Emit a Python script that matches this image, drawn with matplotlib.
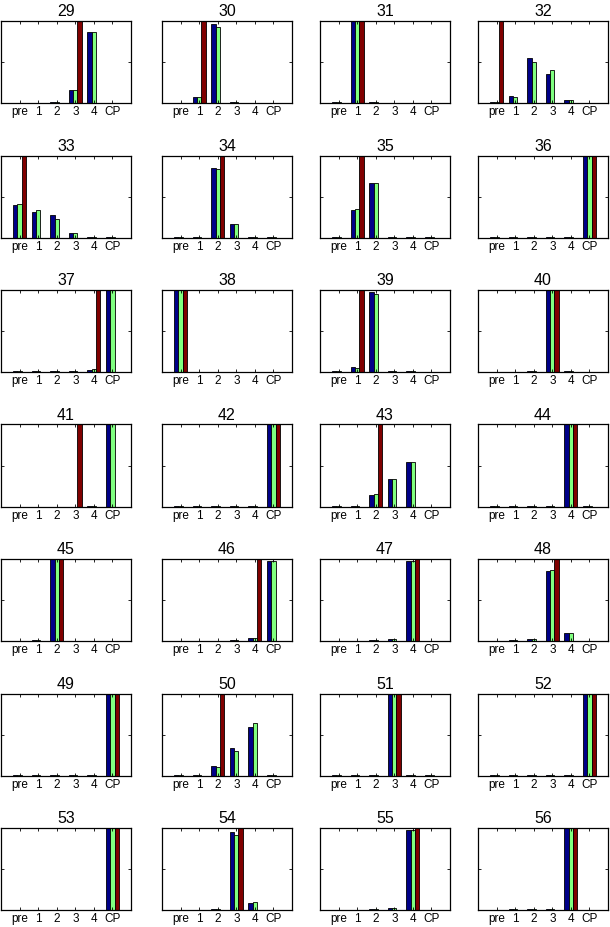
import numpy as np
import matplotlib
matplotlib.use('Agg')
import matplotlib.pyplot as plt

plt.rcParams['font.family'] = ['Liberation Sans', 'DejaVu Sans']

groups = ['pre', '1', '2', '3', '4', 'CP']
panels = list(range(29, 57))

t = 0.005  # the tiny stubs sitting on the baseline
blue = [
    [t, t, 0.01, 0.16, 0.86, t],        # 29
    [t, 0.07, 0.96, 0.01, t, t],        # 30
    [0.01, 1, 0.01, t, t, t],           # 31
    [0.01, 0.09, 0.55, 0.35, 0.04, t],  # 32
    [0.40, 0.31, 0.27, 0.06, 0.01, t],  # 33
    [t, 0.01, 0.85, 0.16, 0.01, t],     # 34
    [0.01, 0.34, 0.66, 0.01, 0.01, t],  # 35
    [t, t, 0.01, 0.01, 0.01, 1],        # 36
    [0.01, 0.01, 0.01, 0.01, 0.02, 1],  # 37
    [1, t, t, t, t, t],                 # 38
    [0.01, 0.06, 0.97, 0.01, 0.01, t],  # 39
    [t, t, 0.01, 1, 0.01, t],           # 40
    [0, 0, 0, 0, 0.01, 1],              # 41
    [t, t, t, t, t, 1],                 # 42
    [t, 0.01, 0.14, 0.34, 0.54, 0],     # 43
    [t, t, t, 0.01, 1, t],              # 44
    [t, 0.01, 1, t, t, t],              # 45
    [t, t, t, 0.01, 0.04, 0.97],        # 46
    [t, t, 0.01, 0.03, 0.97, t],        # 47
    [t, 0.01, 0.03, 0.85, 0.10, t],     # 48
    [t, 0.01, 0.01, 0.01, 0.01, 1],     # 49
    [t, t, 0.11, 0.33, 0.59, t],        # 50
    [t, t, 0.01, 1, 0.01, t],           # 51
    [t, t, t, t, 0.01, 1],              # 52
    [t, t, t, t, t, 1],                 # 53
    [t, t, 0.01, 0.95, 0.08, t],        # 54
    [t, t, 0.01, 0.03, 0.97, t],        # 55
    [t, 0.01, 0.01, 0.01, 1, t],        # 56
]
green = [
    [t, t, 0.01, 0.16, 0.86, t],
    [t, 0.07, 0.93, 0.01, t, t],
    [0.01, 1, 0.01, t, t, t],
    [0.01, 0.07, 0.50, 0.40, 0.04, t],
    [0.41, 0.33, 0.23, 0.06, 0.01, t],
    [t, 0.01, 0.83, 0.17, 0.01, t],
    [0.01, 0.35, 0.66, 0.01, 0.01, t],
    [t, t, 0.01, 0.01, 0.01, 1],
    [0.01, 0.01, 0.01, 0.01, 0.04, 1],
    [1, t, t, t, t, t],
    [0.01, 0.05, 0.95, 0.01, 0.01, t],
    [t, t, 0.01, 1, 0.01, t],
    [0, 0, 0, 0, 0.01, 1],
    [t, t, t, t, t, 1],
    [t, 0.01, 0.15, 0.34, 0.54, 0],
    [t, t, t, 0.01, 1, t],
    [t, 0.01, 1, t, t, t],
    [t, t, t, 0.01, 0.04, 0.97],
    [t, t, 0.01, 0.03, 0.97, t],
    [t, 0.01, 0.03, 0.87, 0.10, t],
    [t, 0.01, 0.01, 0.01, 0.01, 1],
    [t, t, 0.10, 0.30, 0.64, t],
    [t, t, 0.01, 1, 0.01, t],
    [t, t, t, t, 0.01, 1],
    [t, t, t, t, t, 1],
    [t, t, 0.01, 0.92, 0.095, t],
    [t, t, 0.01, 0.03, 0.98, t],
    [t, 0.01, 0.01, 0.01, 1, t],
]
red = [
    [0, 0, 0, 1, 0, 0],  # 29
    [0, 1, 0, 0, 0, 0],  # 30
    [0, 1, 0, 0, 0, 0],  # 31
    [1, 0, 0, 0, 0, 0],  # 32
    [1, 0, 0, 0, 0, 0],  # 33
    [0, 0, 1, 0, 0, 0],  # 34
    [0, 1, 0, 0, 0, 0],  # 35
    [0, 0, 0, 0, 0, 1],  # 36
    [0, 0, 0, 0, 1, 0],  # 37
    [1, 0, 0, 0, 0, 0],  # 38
    [0, 1, 0, 0, 0, 0],  # 39
    [0, 0, 0, 1, 0, 0],  # 40
    [0, 0, 0, 1, 0, 0],  # 41
    [0, 0, 0, 0, 0, 1],  # 42
    [0, 0, 1, 0, 0, 0],  # 43
    [0, 0, 0, 0, 1, 0],  # 44
    [0, 0, 1, 0, 0, 0],  # 45
    [0, 0, 0, 0, 1, 0],  # 46
    [0, 0, 0, 0, 1, 0],  # 47
    [0, 0, 0, 1, 0, 0],  # 48
    [0, 0, 0, 0, 0, 1],  # 49
    [0, 0, 1, 0, 0, 0],  # 50
    [0, 0, 0, 1, 0, 0],  # 51
    [0, 0, 0, 0, 0, 1],  # 52
    [0, 0, 0, 0, 0, 1],  # 53
    [0, 0, 0, 1, 0, 0],  # 54
    [0, 0, 0, 0, 1, 0],  # 55
    [0, 0, 0, 0, 1, 0],  # 56
]

# old matlab jet colours for 3 series
colours = ['#000088', '#80ff80', '#800000']

W, H = 610, 927
fig = plt.figure(figsize=(W / 100, H / 100), dpi=100)

lefts = [1, 162, 320, 478]
aw, ah = 130, 82
x = np.arange(1, 7)
bw = 0.23

for i, num in enumerate(panels):
    r, c = divmod(i, 4)
    top = 21 + r * 134.5
    ax = fig.add_axes([lefts[c] / W, (H - top - ah) / H, aw / W, ah / H])
    for k, series in enumerate([blue, green, red]):
        ax.bar(x + (k - 1) * bw, series[i], bw, color=colours[k],
               edgecolor='black', linewidth=0.6)
    ax.set_xlim(0, 7)
    ax.set_ylim(0, 1)
    ax.set_xticks(x)
    ax.set_xticklabels(groups, fontsize=8.5)
    ax.set_yticks([0, 0.5, 1])
    ax.set_yticklabels([])
    ax.tick_params(direction='in', length=2.5, width=0.6, top=True, right=True, pad=2.5)
    for s in ax.spines.values():
        s.set_linewidth(0.9)
    ax.set_title(str(num), fontsize=11.5, pad=3.5)

fig.savefig('out.png', dpi=100)
